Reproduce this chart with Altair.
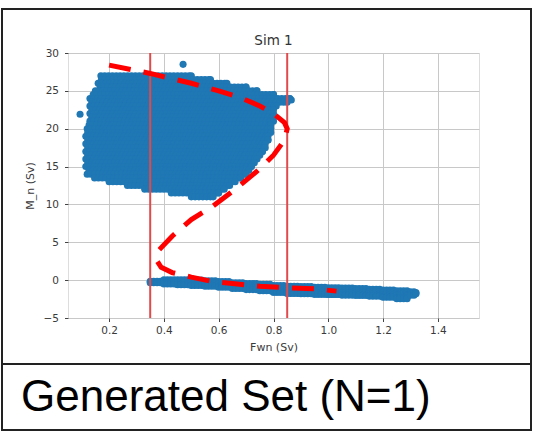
import altair as alt
import pandas as pd

# ---------------- data ----------------
title_text = "Sim 1"
x_title = "Fwn (Sv)"
y_title = "M_n (Sv)"
caption = "Generated Set (N=1)"

x_ticks = [0.2, 0.4, 0.6, 0.8, 1.0, 1.2, 1.4]
y_ticks = [-5, 0, 5, 10, 15, 20, 25, 30]

# upper cloud: horizontal extents (marker centres) of each row of the cloud
blob_row_y = [27.0, 26.5, 26.0, 25.5, 25.0, 24.5, 24.0, 23.5, 23.0, 22.5, 22.0,
              21.5, 21.0, 20.5, 20.0, 19.5, 19.0, 18.5, 18.0, 17.5, 17.0, 16.5,
              16.0, 15.5, 15.0, 14.5, 14.0, 13.5, 13.0, 12.5, 12.0, 11.5, 11.0]
blob_row_xmin = [0.17, 0.165, 0.16, 0.16, 0.15, 0.135, 0.13, 0.13, 0.13, 0.13, 0.13,
                 0.13, 0.13, 0.12, 0.12, 0.115, 0.115, 0.115, 0.115, 0.115, 0.115, 0.115,
                 0.115, 0.115, 0.115, 0.12, 0.12, 0.14, 0.20, 0.26, 0.33, 0.42, 0.50]
blob_row_xmax = [0.50, 0.57, 0.63, 0.70, 0.74, 0.80, 0.86, 0.85, 0.81, 0.80, 0.80,
                 0.80, 0.80, 0.79, 0.79, 0.79, 0.78, 0.78, 0.77, 0.77, 0.76, 0.75,
                 0.74, 0.73, 0.72, 0.71, 0.70, 0.68, 0.66, 0.64, 0.62, 0.60, 0.58]
# isolated points
extra_x = [0.47, 0.094, 0.865]
extra_y = [28.5, 21.9, 23.8]

# lower band: vertical extents (marker centres) per column
band_col_x = [0.35, 0.40, 0.45, 0.50, 0.55, 0.60, 0.65, 0.70, 0.75, 0.80, 0.85,
              0.90, 0.95, 1.00, 1.05, 1.10, 1.15, 1.20, 1.25, 1.30, 1.32]
band_top = [-0.15, 0.05, 0.05, 0.0, -0.1, -0.2, -0.35, -0.45, -0.55, -0.7, -0.8,
            -0.85, -0.95, -1.0, -1.05, -1.1, -1.2, -1.3, -1.4, -1.55, -1.65]
band_bot = [-0.35, -0.5, -0.6, -0.7, -0.8, -0.95, -1.1, -1.25, -1.4, -1.6, -1.75,
            -1.8, -1.85, -1.9, -1.95, -2.0, -2.1, -2.25, -2.45, -2.0, -1.8]

# red vertical reference lines
vline_x = [0.35, 0.85]

# red dashed S-curve
curve_x = [0.20, 0.35, 0.50, 0.60, 0.68, 0.75, 0.80, 0.84, 0.85, 0.84, 0.80, 0.74,
           0.66, 0.58, 0.50, 0.43, 0.38, 0.372, 0.39, 0.43, 0.50, 0.58, 0.65, 0.75,
           0.85, 0.95, 1.03]
curve_y = [28.4, 27.3, 26.0, 25.0, 24.1, 23.0, 22.0, 20.8, 20.0, 18.5, 16.5, 14.4,
           12.0, 9.8, 8.0, 5.8, 3.9, 2.7, 1.7, 1.0, 0.4, -0.2, -0.45, -0.8,
           -1.0, -1.15, -1.45]

# ---------------- build tables ----------------
pts_x, pts_y = [], []
for i, (yy, a, b) in enumerate(zip(blob_row_y, blob_row_xmin, blob_row_xmax)):
    xx = a + (0.007 if i % 2 else 0.0)
    while xx <= b + 1e-9:
        pts_x.append(xx)
        pts_y.append(yy)
        xx += 0.014
    pts_x.append(b)
    pts_y.append(yy)
pts_x += extra_x
pts_y += extra_y

for i in range(len(band_col_x)):
    x0 = band_col_x[i]
    x1 = band_col_x[i + 1] if i + 1 < len(band_col_x) else x0 + 0.001
    xx = x0
    while xx < x1 - 1e-9:
        yy = band_top[i]
        while yy >= band_bot[i] - 1e-9:
            pts_x.append(xx)
            pts_y.append(yy)
            yy -= 0.3
        pts_x.append(xx)
        pts_y.append(band_bot[i])
        xx += 0.0125

pts = pd.DataFrame({"x": pts_x, "y": pts_y})
vlines = pd.DataFrame({"x": vline_x})
curve = pd.DataFrame({"x": curve_x, "y": curve_y, "i": list(range(len(curve_x)))})
one = pd.DataFrame({"a": [0]})

# ---------------- chart ----------------
FONT = "DejaVu Sans"
xscale = alt.Scale(domain=[0.05, 1.55], nice=False, zero=False)
yscale = alt.Scale(domain=[-5, 30], nice=False, zero=False)

common_axis = dict(grid=True, tickSize=3.5, labelFontSize=10.5, titleFontSize=11,
                   labelFont=FONT, titleFont=FONT, titleFontWeight="normal",
                   labelColor="#3a3a3a", titleColor="#3a3a3a", domain=False,
                   tickColor="#444444", gridColor="#c8c8c8", labelOverlap=False)
x_axis = alt.Axis(values=x_ticks, format=".1f", title=x_title, labelPadding=4,
                  titlePadding=5, **common_axis)
y_axis = alt.Axis(values=y_ticks, format="d", title=y_title, labelPadding=6,
                  titlePadding=8, **common_axis)

X = alt.X("x:Q", scale=xscale, axis=x_axis)
Y = alt.Y("y:Q", scale=yscale, axis=y_axis)

scatter = alt.Chart(pts).mark_circle(size=50, color="#1f77b4", opacity=1).encode(x=X, y=Y)

rules = alt.Chart(vlines).mark_rule(color="#e04a4a", strokeWidth=2).encode(x=X)

dashed = alt.Chart(curve).mark_line(color="#ff0000", strokeWidth=5,
                                    strokeDash=[22, 13]).encode(x=X, y=Y, order="i:Q")

frame_top = alt.Chart(one).mark_rect(fillOpacity=0, stroke="#222222", strokeWidth=2).encode(
    x=alt.value(-66), x2=alt.value(463), y=alt.value(-44), y2=alt.value(311)
)
frame_bottom = alt.Chart(one).mark_rect(fillOpacity=0, stroke="#222222", strokeWidth=2).encode(
    x=alt.value(-66), x2=alt.value(463), y=alt.value(311), y2=alt.value(377)
)
title_mark = alt.Chart(one).mark_text(align="center", baseline="alphabetic", fontSize=13.5,
                                      font=FONT, color="#333333").encode(
    x=alt.value(205.5), y=alt.value(-8), text=alt.value(title_text)
)
caption_text = alt.Chart(one).mark_text(align="left", baseline="alphabetic", fontSize=44,
                                        font="Liberation Sans", color="black").encode(
    x=alt.value(-47), y=alt.value(358), text=alt.value(caption)
)

chart = alt.layer(frame_top, frame_bottom, scatter, rules, dashed, title_mark,
                  caption_text).properties(
    width=411,
    height=265,
    padding={"left": 68, "top": 53, "right": 59, "bottom": 115},
    autosize="none",
).configure_view(stroke="#444444", strokeWidth=1).configure(background="white")

chart.save("out.html", embed_options={"renderer": "svg", "actions": False})
